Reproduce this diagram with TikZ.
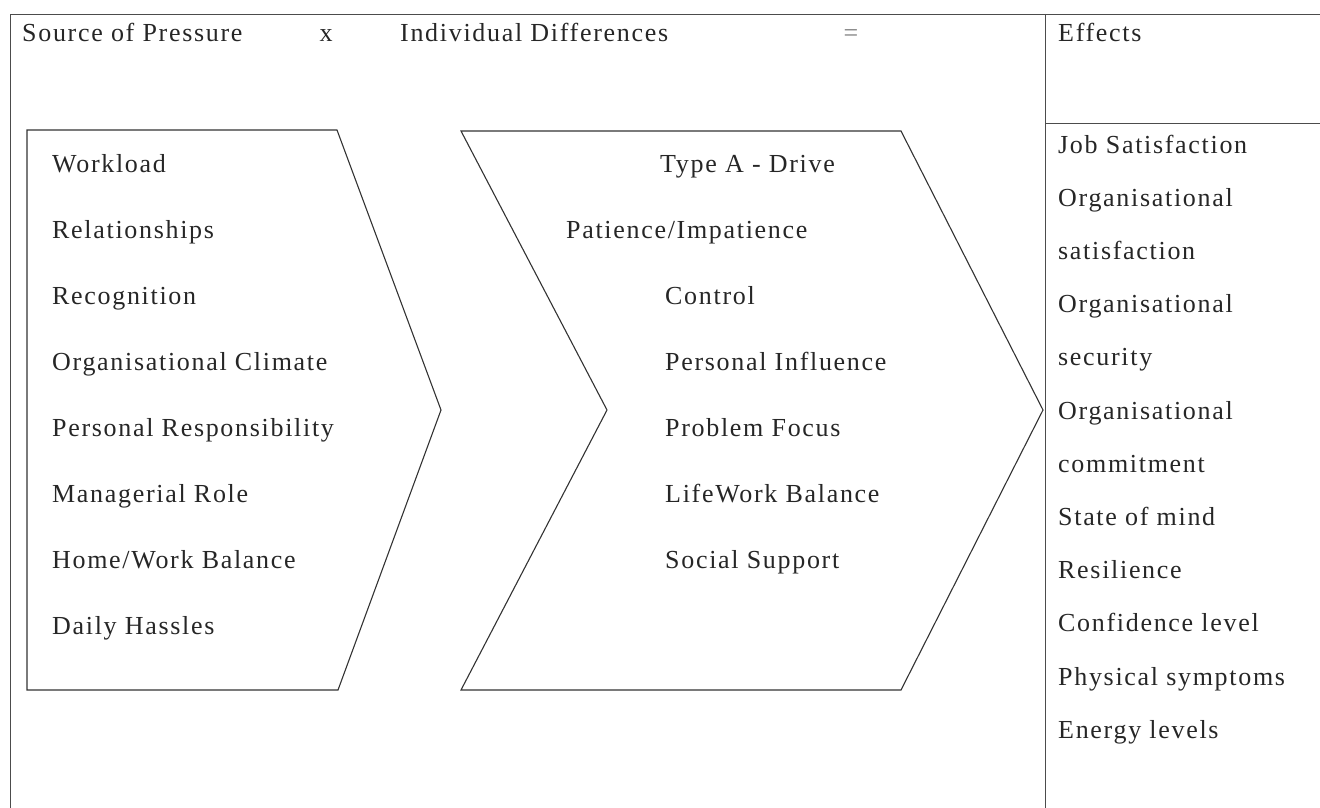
\documentclass[tikz,border=0pt]{standalone}
\usepackage{fontspec}
\setmainfont{Liberation Serif}[LetterSpace=6.5]
\begin{document}
\begin{tikzpicture}[x=1pt,y=-1pt,
  frame/.style={draw=black!70, line width=0.9pt},
  chev/.style={draw=black!80, line width=1.1pt, line join=miter},
  item/.style={anchor=base west, inner sep=0pt, text=black!85,
    font=\fontsize{26}{30}\selectfont},
]
\useasboundingbox (0,0) rectangle (1320,808);

% outer frame, column divider and the rule under "Effects"
\coordinate (tl) at (10,14);
\coordinate (tr) at (1320,14);
\coordinate (bl) at (10,808);
\coordinate (dt) at (1045,14);
\coordinate (db) at (1045,808);
\coordinate (rl) at (1045,123);
\coordinate (rr) at (1320,123);
\draw[frame] (bl) -- (tl) -- (tr);
\draw[frame] (dt) -- (db);
\draw[frame] (rl) -- (rr);

% heading row
\node[item] (hsrc) at (22,42) {Source of Pressure};
\node[item, anchor=base] (hx) at (326,42) {x};
\node[item] (hind) at (400,42) {Individual Differences};
\node[item, anchor=base, text=black!50] (heq) at (851,42) {=};
\node[item] (heff) at (1058,42) {Effects};

% first chevron: sources of pressure
\draw[chev] (27,130) -- (337,130) -- (441,410) -- (338,690) -- (27,690) -- cycle;
% second chevron: individual differences
\draw[chev] (461,131) -- (901,131) -- (1043,410) -- (901,690) -- (461,690) -- (607,410) -- cycle;

% sources of pressure
\foreach \t [count=\i from 0] in {Workload,Relationships,Recognition,
    Organisational Climate,Personal Responsibility,Managerial Role,
    Home/Work Balance,Daily Hassles}
  \node[item] (p\i) at (52,172+66*\i) {\t};

% individual differences
\node[item] (d0) at (660,172) {Type A - Drive};
\node[item] (d1) at (566,238) {Patience/Impatience};
\foreach \t [count=\i from 2] in {Control,Personal Influence,Problem Focus,
    LifeWork Balance,Social Support}
  \node[item] (d\i) at (665,172+66*\i) {\t};

% effects
\foreach \t [count=\i from 0] in {Job Satisfaction,Organisational,satisfaction,
    Organisational,security,Organisational,commitment,State of mind,
    Resilience,Confidence level,Physical symptoms,Energy levels}
  \node[item] (e\i) at (1058,153+53.2*\i) {\t};
\end{tikzpicture}
\end{document}
